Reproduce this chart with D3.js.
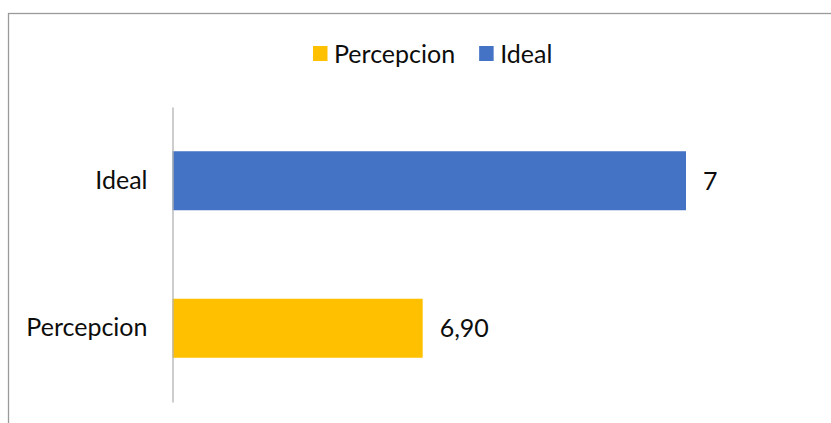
<!DOCTYPE html>
<html>
<head>
<meta charset="utf-8">
<script src="https://cdn.jsdelivr.net/npm/d3@7"></script>
<style>
  html, body { margin: 0; padding: 0; background: #fff; }
  svg { display: block; }
  text { font-family: Lato, "Open Sans", sans-serif; fill: #0d0d0d; }
</style>
</head>
<body>
<svg id="chart" width="831" height="423"></svg>
<script>
// Chart data
const categories = ["Ideal", "Percepcion"];
const values = [7, 6.90];
const valueLabels = ["7", "6,90"];
const colors = ["#4472C4", "#FFC000"];
const legendOrder = ["Percepcion", "Ideal"];
const axisMin = 6.805;

const width = 831, height = 423;
const svg = d3.select("#chart");

// Outer chart frame (runs off the right and bottom edges)
svg.append("rect")
  .attr("x", 8.5).attr("y", 13.5)
  .attr("width", 900).attr("height", 500)
  .attr("fill", "#fff")
  .attr("stroke", "#9a9a9a")
  .attr("stroke-width", 1.3);

const plot = { left: 172.5, right: 686, top: 107, bottom: 402 };

const x = d3.scaleLinear().domain([axisMin, d3.max(values)]).range([plot.left, plot.right]);
const y = d3.scaleBand().domain(categories).range([plot.top, plot.bottom])
  .paddingInner(0.6).paddingOuter(0.3);

const fontSize = 25;

// Bars
svg.append("g").selectAll("rect")
  .data(categories)
  .join("rect")
  .attr("x", x(axisMin))
  .attr("y", d => y(d))
  .attr("width", (d, i) => x(values[i]) - x(axisMin))
  .attr("height", y.bandwidth())
  .attr("fill", (d, i) => colors[i]);

// Category axis
const yAxis = d3.axisLeft(y).tickSize(0).tickPadding(25);
const gy = svg.append("g").attr("transform", `translate(${plot.left},0)`).call(yAxis);
gy.select(".domain").attr("stroke", "#b3b3b3").attr("stroke-width", 1.3);
gy.selectAll("text")
  .style("font-family", "Lato, 'Open Sans', sans-serif")
  .style("font-size", fontSize + "px")
  .attr("fill", "#0d0d0d");

// Value labels
svg.append("g").selectAll("text")
  .data(categories)
  .join("text")
  .attr("x", (d, i) => x(values[i]) + 17)
  .attr("y", d => y(d) + y.bandwidth() / 2)
  .attr("dy", "0.35em")
  .style("font-size", fontSize + "px")
  .text((d, i) => valueLabels[i]);

// Legend
const legend = svg.append("g").attr("transform", "translate(313,54)");
let lx = 0;
legendOrder.forEach(name => {
  const i = categories.indexOf(name);
  legend.append("rect")
    .attr("x", lx).attr("y", -8)
    .attr("width", 14.5).attr("height", 15)
    .attr("fill", colors[i]);
  const t = legend.append("text")
    .attr("x", lx + 21).attr("y", 0)
    .attr("dy", "0.35em")
    .style("font-size", fontSize + "px")
    .text(name);
  lx += 21 + t.node().getComputedTextLength() + 24;
});
</script>
</body>
</html>
